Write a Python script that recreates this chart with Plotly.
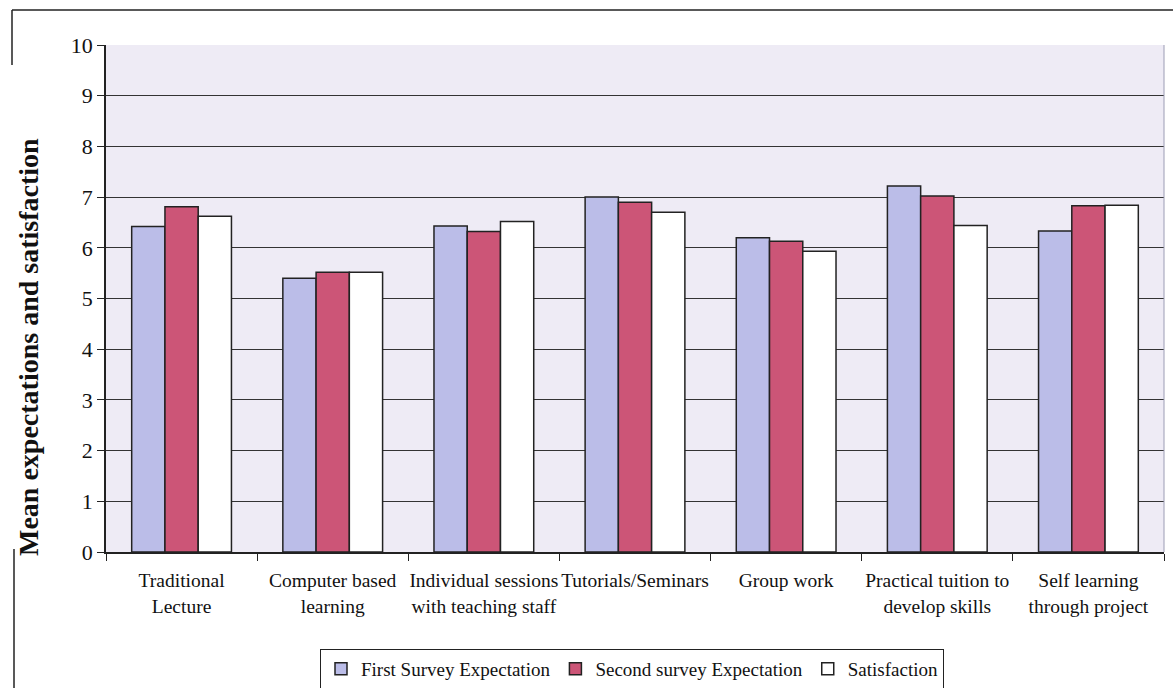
import plotly.graph_objects as go

categories = [
    "Traditional<br>Lecture",
    "Computer based<br>learning",
    "Individual sessions<br>with teaching staff",
    "Tutorials/Seminars",
    "Group work",
    "Practical tuition to<br>develop skills",
    "Self learning<br>through project",
]
first_survey = [6.42, 5.40, 6.43, 7.0, 6.20, 7.22, 6.33]
second_survey = [6.81, 5.52, 6.32, 6.90, 6.13, 7.02, 6.83]
satisfaction = [6.62, 5.52, 6.52, 6.70, 5.93, 6.44, 6.84]

series_names = ["First Survey Expectation", "Second survey Expectation", "Satisfaction"]
series_colors = ["#BBBDE8", "#CC5577", "#FFFFFF"]

W, H = 1173, 688
ML, MR, MT, MB = 106, 9, 45, 136
PW = W - ML - MR
PH = H - MT - MB


def px2x(px):
    return (px - ML) / PW


def px2y(py):
    return (H - MB - py) / PH


FONT = "Liberation Serif"

fig = go.Figure()
for name, vals, col in zip(series_names, [first_survey, second_survey, satisfaction], series_colors):
    fig.add_trace(go.Bar(
        x=categories, y=vals, name=name,
        marker=dict(color=col, line=dict(color="#222222", width=1.5)),
    ))

shapes = [
    dict(type="line", xref="paper", yref="paper", x0=px2x(12), x1=px2x(1173), y0=px2y(10), y1=px2y(10),
         line=dict(color="#222222", width=1.5)),
    dict(type="line", xref="paper", yref="paper", x0=px2x(12), x1=px2x(12), y0=px2y(10), y1=px2y(65),
         line=dict(color="#222222", width=1.5)),
    dict(type="line", xref="paper", yref="paper", x0=px2x(14), x1=px2x(14), y0=px2y(549), y1=px2y(688),
         line=dict(color="#222222", width=1.5)),
    dict(type="line", xref="paper", yref="paper", x0=1, x1=1, y0=0, y1=1,
         line=dict(color="#9C9CB4", width=1)),
]

fig.update_layout(
    width=W, height=H,
    margin=dict(l=ML, r=MR, t=MT, b=MB, autoexpand=False),
    paper_bgcolor="white",
    plot_bgcolor="#EEEBF5",
    barmode="group",
    bargap=0.34,
    bargroupgap=0,
    font=dict(family=FONT, size=19, color="#111111"),
    showlegend=True,
    legend=dict(
        orientation="h", xref="container", yref="container",
        x=632 / W, xanchor="center", y=1 - 649 / H, yanchor="top",
        bordercolor="#222222", borderwidth=1, bgcolor="white",
        font=dict(family=FONT, size=19, color="#111111"),
        itemwidth=30, tracegroupgap=0,
    ),
    shapes=shapes,
    annotations=[
        dict(text="<b>Mean expectations and satisfaction</b>", xref="paper", yref="paper",
             x=px2x(29), y=px2y(347), textangle=-90, showarrow=False,
             font=dict(family=FONT, size=28, color="#111111"),
             xanchor="center", yanchor="middle"),
    ],
)

fig.update_yaxes(
    range=[0, 10], dtick=1, tick0=0,
    showgrid=True, gridcolor="#333333", gridwidth=1,
    showline=True, linecolor="#222222", linewidth=1.5,
    ticks="outside", ticklen=7, tickcolor="#222222",
    tickfont=dict(family=FONT, size=22, color="#111111"),
    zeroline=False, automargin=False,
)
fig.update_xaxes(
    showline=True, linecolor="#222222", linewidth=1.5,
    ticks="outside", ticklen=7, tickcolor="#222222", tickson="boundaries",
    tickangle=0, automargin=False, ticklabelstandoff=10,
    tickfont=dict(family=FONT, size=19.5, color="#111111"),
)

fig.write_html("out.html")
